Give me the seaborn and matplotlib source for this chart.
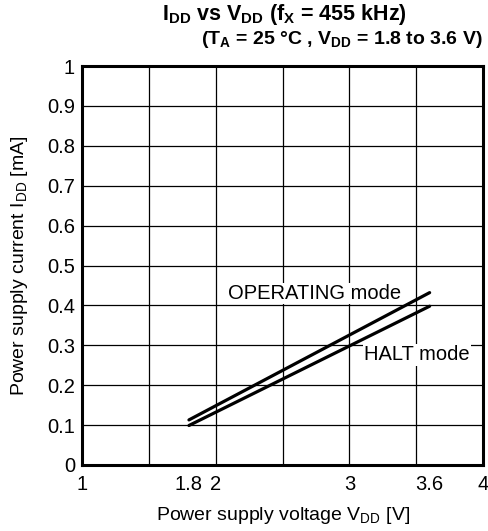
import numpy as np
import pandas as pd
import matplotlib
matplotlib.use("Agg")
import matplotlib.pyplot as plt
import seaborn as sns

# data
vdd = [1.8, 3.6]
idd_operating = [0.113, 0.432]
idd_halt = [0.099, 0.398]

x_ticks = [1, 1.8, 2, 3, 3.6, 4]
x_grid = [1.5, 2, 2.5, 3, 3.5]
y_ticks = [0, 0.1, 0.2, 0.3, 0.4, 0.5, 0.6, 0.7, 0.8, 0.9, 1]

df = pd.DataFrame({
    "vdd": vdd + vdd,
    "idd": idd_operating + idd_halt,
    "mode": ["OPERATING mode"] * 2 + ["HALT mode"] * 2,
})

sns.set_style("white")
plt.rcParams['font.family'] = ['Liberation Sans', 'DejaVu Sans']
plt.rcParams['mathtext.fontset'] = 'custom'
plt.rcParams['mathtext.rm'] = 'Liberation Sans'
plt.rcParams['mathtext.bf'] = 'Liberation Sans:bold'
plt.rcParams['text.color'] = 'black'
plt.rcParams['axes.labelcolor'] = 'black'

fig = plt.figure(figsize=(4.88, 5.31), dpi=100)
ax = fig.add_axes([0.168, 0.1243, 0.822, 0.7514])

# grid
for g in x_grid:
    ax.axvline(g, color="black", lw=0.9, zorder=1)
for g in y_ticks[1:-1]:
    ax.axhline(g, color="black", lw=0.9, zorder=1)

sns.lineplot(data=df, x="vdd", y="idd", units="mode", estimator=None,
             color="black", lw=2.3, legend=False, ax=ax, zorder=3)

ax.set_xlim(1, 4)
ax.set_ylim(0, 1)
ax.set_xticks(x_ticks)
ax.set_xticklabels([f"{t:g}" for t in x_ticks])
ax.set_yticks(y_ticks)
ax.set_yticklabels([f"{t:g}" for t in y_ticks])
ax.tick_params(axis="both", length=0, labelsize=14.5, pad=5, colors="black")
ax.tick_params(axis="x", pad=7)
# small inward marks at 1.8 and 3.6
ax.set_xticks([1.8, 3.6], minor=True)
ax.tick_params(axis="x", which="minor", direction="in", length=10, width=0.9, color="gray")

for s in ax.spines.values():
    s.set_linewidth(2.2)
    s.set_color("black")

ax.set_xlabel(r"Power supply voltage V$_{\mathregular{DD}}$ [V]", fontsize=14, labelpad=8)
ax.set_ylabel(r"Power supply current I$_{\mathregular{DD}}$ [mA]", fontsize=14, labelpad=12)

bbox = dict(facecolor="white", edgecolor="none", pad=1)
ax.text(2.74, 0.43, "OPERATING mode", fontsize=14.5, ha="center", va="center",
        bbox=bbox, zorder=2)
ax.text(3.11, 0.276, "HALT mode", fontsize=14.5, ha="left", va="center",
        bbox=bbox, zorder=2)

fig.text(0.583, 0.972, r"I$_{\mathregular{DD}}$ vs V$_{\mathregular{DD}}$ (f$_{\mathregular{X}}$ = 455 kHz)",
         fontsize=15.5, fontweight="bold", ha="center", va="center")
fig.text(0.988, 0.925, r"(T$_{\mathregular{A}}$ = 25 °C , V$_{\mathregular{DD}}$ = 1.8 to 3.6 V)",
         fontsize=14, fontweight="bold", ha="right", va="center")

fig.savefig("out.png", dpi=100)
